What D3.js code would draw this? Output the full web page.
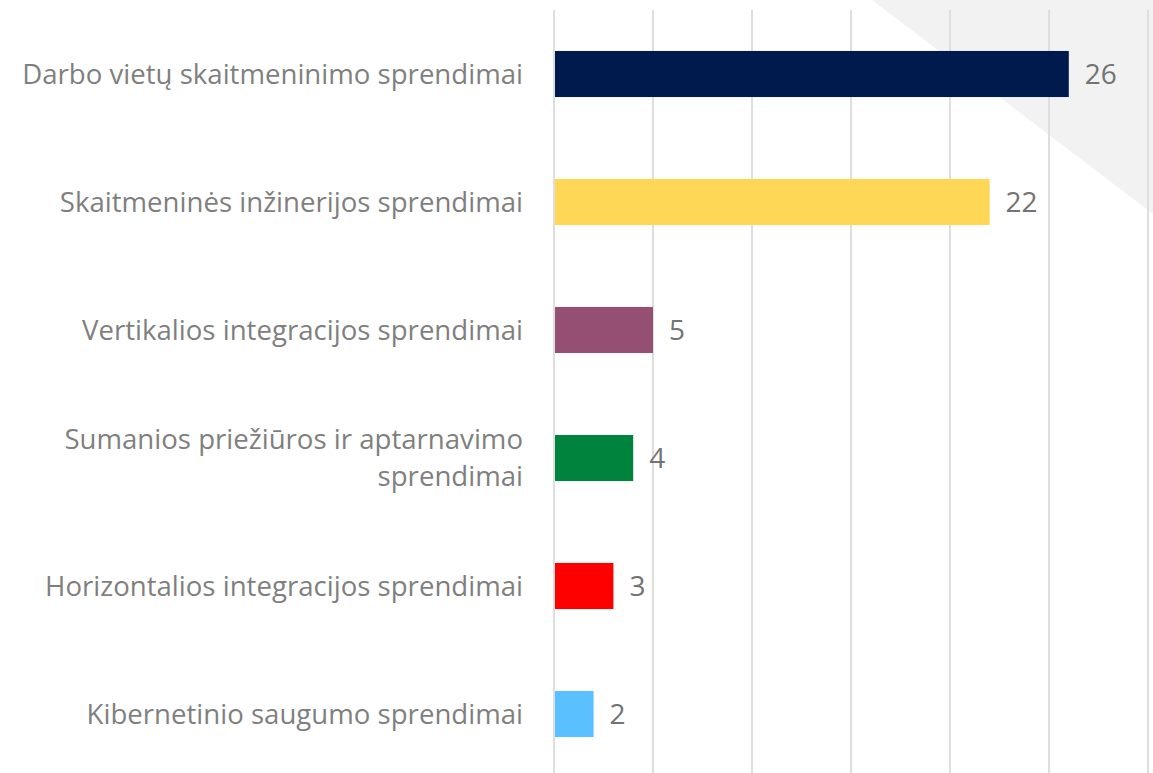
<!DOCTYPE html>
<html>
<head>
<meta charset="utf-8">
<script src="https://cdn.jsdelivr.net/npm/d3@7"></script>
<style>
  body { margin: 0; background: #fff; }
  text { font-family: "Open Sans", "Liberation Sans", sans-serif; }
</style>
</head>
<body>
<div id="chart"></div>
<script>
// duomenys
const categories = [
    ["Darbo vietų skaitmeninimo sprendimai"],
    ["Skaitmeninės inžinerijos sprendimai"],
    ["Vertikalios integracijos sprendimai"],
    ["Sumanios priežiūros ir aptarnavimo", "sprendimai"],
    ["Horizontalios integracijos sprendimai"],
    ["Kibernetinio saugumo sprendimai"]
];
const values = [26, 22, 5, 4, 3, 2];
const colors = ["#001a4d", "#ffd757", "#954f72", "#00843d", "#ff0000", "#5bc0ff"];
const ticks = [0, 5, 10, 15, 20, 25, 30];

const width = 1153, height = 773;
const fs = 27.6;
const svg = d3.select('#chart').append('svg')
    .attr('width', width)
    .attr('height', height);

// fono trikampis
svg.append('polygon')
    .attr('points', '872,0 1153,0 1153,214')
    .attr('fill', '#f2f2f2');

const x = d3.scaleLinear()
    .domain([0, 30])
    .range([554, 1148]);

const y = d3.scaleBand()
    .domain(d3.range(categories.length))
    .range([10, 778])
    .paddingInner(0.64)
    .paddingOuter(0.32);

// tinklelis
svg.selectAll('.grid')
    .data(ticks)
    .enter().append('line')
    .attr('x1', d => x(d))
    .attr('x2', d => x(d))
    .attr('y1', 10)
    .attr('y2', height)
    .attr('stroke', '#dedede')
    .attr('stroke-width', 2);

svg.selectAll('.bar')
    .data(values)
    .enter().append('rect')
    .attr('x', x(0) + 1)
    .attr('y', (d, i) => y(i))
    .attr('width', d => x(d) - x(0) - 1)
    .attr('height', y.bandwidth())
    .attr('fill', (d, i) => colors[i]);

// reikšmės
svg.selectAll('.val')
    .data(values)
    .enter().append('text')
    .attr('x', d => x(d) + 16)
    .attr('y', (d, i) => y(i) + y.bandwidth() / 2)
    .attr('dy', '0.36em')
    .attr('font-size', 28)
    .attr('fill', '#737373')
    .text(d => d);

// kategorijos
const labels = svg.selectAll('.lbl')
    .data(categories)
    .enter().append('text')
    .attr('text-anchor', 'end')
    .attr('font-size', fs)
    .attr('fill', '#7f7f7f')
    .attr('y', (d, i) => y(i) + y.bandwidth() / 2);

labels.each(function(d) {
    const t = d3.select(this);
    const lh = 37;
    d.forEach((line, k) => {
        t.append('tspan')
            .attr('x', 523)
            .attr('dy', k === 0 ? (0.36 * fs - (d.length - 1) * lh / 2) : lh)
            .text(line);
    });
});
</script>
</body>
</html>
